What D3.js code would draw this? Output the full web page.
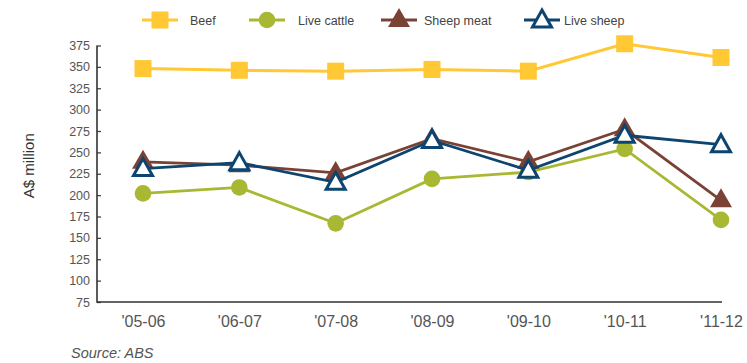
<!DOCTYPE html>
<html>
<head>
<meta charset="utf-8">
<script src="https://cdn.jsdelivr.net/npm/d3@7"></script>
<style>
  html, body { margin: 0; padding: 0; background: #fff; }
  svg { display: block; }
  text { font-family: "Liberation Sans", Arial, sans-serif; }
</style>
</head>
<body>
<svg id="chart" width="747" height="363"></svg>
<script>
// Export values by year, A$ million
const years = ["'05-06", "'06-07", "'07-08", "'08-09", "'09-10", "'10-11", "'11-12"];
const beef = [348, 346, 345, 347, 345, 377, 361];
const liveCattle = [202, 209, 167, 219, 227, 254, 171];
const sheepMeat = [239, 235, 226, 266, 239, 277, 194];
const liveSheep = [231, 238, 215, 264, 229, 270, 259];
const yTicks = [75, 100, 125, 150, 175, 200, 225, 250, 275, 300, 325, 350, 375];

const series = [
  { name: "Beef", values: beef, color: "#FFC834", marker: "square" },
  { name: "Live cattle", values: liveCattle, color: "#A9B833", marker: "circle" },
  { name: "Sheep meat", values: sheepMeat, color: "#7A4234", marker: "triangle" },
  { name: "Live sheep", values: liveSheep, color: "#0D4470", marker: "hollowTriangle" }
];

const svg = d3.select("#chart");
const x = d3.scalePoint().domain(years).range([143, 721]);
const y = d3.scaleLinear().domain([75, 375]).range([302, 45.5]);

// Y axis: inward ticks, no domain path (drawn separately)
const yAxis = svg.append("g")
  .attr("transform", "translate(97,0)")
  .call(d3.axisRight(y).tickValues(yTicks).tickSize(4).tickFormat(d3.format("d")));
yAxis.select(".domain").remove();
yAxis.selectAll(".tick line").attr("stroke", "#444").attr("stroke-width", 1.3);
yAxis.selectAll(".tick text")
  .attr("x", -7).attr("text-anchor", "end")
  .attr("fill", "#555").attr("font-size", "12.5px")
  .attr("font-family", "Liberation Sans, Arial, sans-serif");

// X axis labels at each category
const xAxis = svg.append("g")
  .attr("transform", "translate(0,302)")
  .call(d3.axisBottom(x).tickSize(0).tickPadding(14));
xAxis.select(".domain").remove();
xAxis.selectAll(".tick text")
  .attr("fill", "#555").attr("font-size", "16px")
  .attr("font-family", "Liberation Sans, Arial, sans-serif");

// Axis frame lines
svg.append("path")
  .attr("d", `M97,${y(375)}V302H722`)
  .attr("fill", "none").attr("stroke", "#333").attr("stroke-width", 1.6);

// Axis title
svg.append("text")
  .attr("transform", `translate(34,${(y(375) + 302) / 2 - 8}) rotate(-90)`)
  .attr("text-anchor", "middle")
  .attr("font-size", "15px").attr("fill", "#333")
  .text("A$ million");

// Source note
svg.append("text")
  .attr("x", 71).attr("y", 358)
  .attr("font-size", "14.5px").attr("font-style", "italic").attr("fill", "#555")
  .text("Source: ABS");

function drawMarker(g, type, color, cx, cy) {
  if (type === "square") {
    g.append("rect").attr("x", cx - 8.5).attr("y", cy - 8.5)
      .attr("width", 17).attr("height", 17).attr("fill", color);
  } else if (type === "circle") {
    g.append("circle").attr("cx", cx).attr("cy", cy).attr("r", 8.3).attr("fill", color);
  } else if (type === "triangle") {
    g.append("path")
      .attr("d", `M${cx},${cy - 12}L${cx + 11},${cy + 7}L${cx - 11},${cy + 7}Z`)
      .attr("fill", color);
  } else {
    g.append("path")
      .attr("d", `M${cx},${cy - 10}L${cx + 9.5},${cy + 7}L${cx - 9.5},${cy + 7}Z`)
      .attr("fill", "#fff").attr("stroke", color).attr("stroke-width", 3)
      .attr("stroke-linejoin", "miter");
  }
}

const line = d3.line().x((d, i) => x(years[i])).y(d => y(d));

series.forEach(s => {
  const g = svg.append("g");
  g.append("path")
    .datum(s.values)
    .attr("d", line)
    .attr("fill", "none")
    .attr("stroke", s.color)
    .attr("stroke-width", s.marker === "square" ? 3 : 2.8);
  s.values.forEach((v, i) => drawMarker(g, s.marker, s.color, x(years[i]), y(v)));
});

// Legend
const legendItems = [
  { lx: 142, tx: 190 },
  { lx: 249, tx: 298 },
  { lx: 381, tx: 424 },
  { lx: 524, tx: 564 }
];
const legendY = 20;
series.forEach((s, i) => {
  const li = legendItems[i];
  const g = svg.append("g");
  const w = 36;
  g.append("line")
    .attr("x1", li.lx).attr("x2", li.lx + w)
    .attr("y1", legendY).attr("y2", legendY)
    .attr("stroke", s.color).attr("stroke-width", 2.8);
  drawMarker(g, s.marker, s.color, li.lx + w / 2, legendY);
  g.append("text")
    .attr("x", li.tx).attr("y", legendY + 4.5)
    .attr("font-size", "12.5px").attr("fill", "#444")
    .attr("font-family", "Open Sans, Noto Sans, sans-serif")
    .text(s.name);
});
</script>
</body>
</html>
